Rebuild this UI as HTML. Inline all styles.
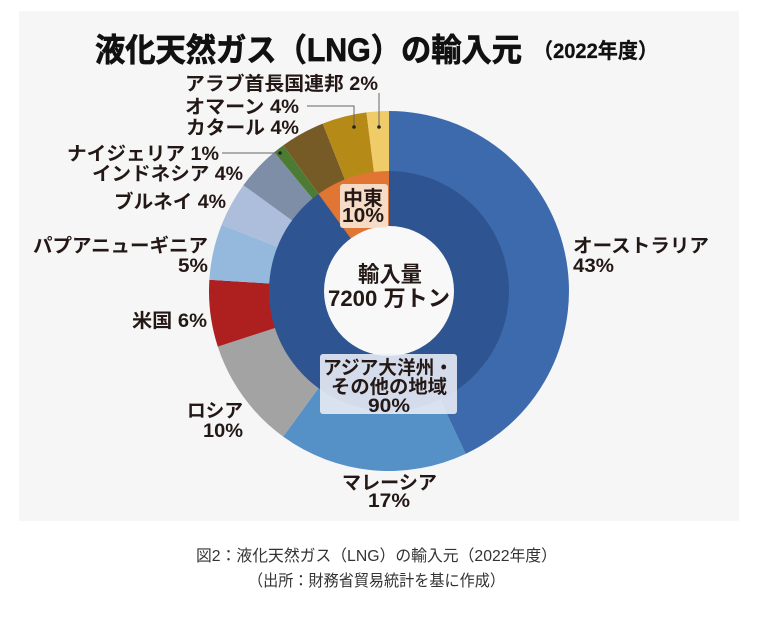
<!DOCTYPE html>
<html><head><meta charset="utf-8"><style>
html,body{margin:0;padding:0;background:#fff;}
svg{display:block;}
text{font-family:"Liberation Sans","Noto Sans CJK JP",sans-serif;}
</style></head><body>
<svg width="757" height="633" viewBox="0 0 757 633" xmlns="http://www.w3.org/2000/svg">
<rect x="0" y="0" width="757" height="633" fill="#ffffff"/>
<rect x="19" y="11" width="720" height="510" fill="#f6f6f6"/>

<!-- title -->
<text x="95" y="61" font-size="32" font-weight="bold" fill="#111" stroke="#111" stroke-width="0.7" textLength="427" lengthAdjust="spacingAndGlyphs">液化天然ガス（LNG）の輸入元</text>
<text x="533" y="58" font-size="21" font-weight="bold" fill="#111" stroke="#111" stroke-width="0.3" textLength="125" lengthAdjust="spacingAndGlyphs">（2022年度）</text>

<!-- outer ring slices -->
<path d="M389 291 L389 111 A180 180 0 0 1 465.64 453.86 Z" fill="#3d6aad"/>
<path d="M389 291 L465.64 453.86 A180 180 0 0 1 283.20 436.62 Z" fill="#5590c6"/>
<path d="M389 291 L283.20 436.62 A180 180 0 0 1 217.80 346.62 Z" fill="#a3a3a3"/>
<path d="M389 291 L217.80 346.62 A180 180 0 0 1 209.36 279.70 Z" fill="#ae2020"/>
<path d="M389 291 L209.36 279.70 A180 180 0 0 1 221.64 224.74 Z" fill="#94b9dd"/>
<path d="M389 291 L221.64 224.74 A180 180 0 0 1 243.38 185.20 Z" fill="#adbedc"/>
<path d="M389 291 L243.38 185.20 A180 180 0 0 1 274.27 152.31 Z" fill="#7d8ea6"/>
<path d="M389 291 L274.27 152.31 A180 180 0 0 1 283.20 145.38 Z" fill="#4c7c33"/>
<path d="M389 291 L283.20 145.38 A180 180 0 0 1 322.74 123.64 Z" fill="#775b27"/>
<path d="M389 291 L322.74 123.64 A180 180 0 0 1 366.45 112.42 Z" fill="#b68a17"/>
<path d="M389 291 L366.45 112.42 A180 180 0 0 1 389 111 Z" fill="#efcc67"/>

<!-- inner ring -->
<path d="M389 291 L389 171 A120 120 0 1 1 318.46 193.92 Z" fill="#2e5592"/>
<path d="M389 291 L318.46 193.92 A120 120 0 0 1 389 171 Z" fill="#e07534"/>

<!-- hole -->
<circle cx="389" cy="291" r="65" fill="#f8f8f8"/>

<!-- boxes -->
<rect x="340" y="184" width="48" height="44" rx="3" fill="#f7e5d3" fill-opacity="0.92"/>
<rect x="320" y="354" width="137" height="60" rx="3" fill="#eceef6" fill-opacity="0.88"/>

<!-- center text -->
<g fill="#231815" font-weight="bold">
<text x="358" y="282" font-size="22" textLength="64" lengthAdjust="spacingAndGlyphs">輸入量</text>
<text x="328" y="306" font-size="22" textLength="122" lengthAdjust="spacingAndGlyphs">7200 万トン</text>
<text x="343" y="205" font-size="20" textLength="40" lengthAdjust="spacingAndGlyphs">中東</text>
<text x="342" y="222" font-size="20" textLength="42" lengthAdjust="spacingAndGlyphs">10%</text>
<text x="323" y="374" font-size="19" textLength="130" lengthAdjust="spacingAndGlyphs">アジア大洋州・</text>
<text x="331" y="393" font-size="19" textLength="116" lengthAdjust="spacingAndGlyphs">その他の地域</text>
<text x="368" y="412" font-size="19" textLength="42" lengthAdjust="spacingAndGlyphs">90%</text>
</g>

<!-- leader lines -->
<g stroke="#666" stroke-width="1" fill="none">
<polyline points="307,106 354,106 354,127"/>
<line x1="379" y1="93" x2="379" y2="127"/>
<line x1="222" y1="153" x2="280" y2="153"/>
</g>
<g fill="#222">
<circle cx="354" cy="127" r="1.8"/>
<circle cx="379" cy="127" r="1.8"/>
<circle cx="280" cy="153" r="1.8"/>
</g>

<!-- labels -->
<g fill="#231815" font-weight="bold" font-size="19">
<text x="185" y="90" textLength="193" lengthAdjust="spacingAndGlyphs">アラブ首長国連邦 2%</text>
<text x="185" y="113" textLength="114" lengthAdjust="spacingAndGlyphs">オマーン 4%</text>
<text x="186" y="134" textLength="113" lengthAdjust="spacingAndGlyphs">カタール 4%</text>
<text x="67" y="160" textLength="152" lengthAdjust="spacingAndGlyphs">ナイジェリア 1%</text>
<text x="92" y="180" textLength="151" lengthAdjust="spacingAndGlyphs">インドネシア 4%</text>
<text x="114" y="208" textLength="112" lengthAdjust="spacingAndGlyphs">ブルネイ 4%</text>
<text x="33" y="252" textLength="175" lengthAdjust="spacingAndGlyphs">パプアニューギニア</text>
<text x="178" y="272" textLength="30" lengthAdjust="spacingAndGlyphs">5%</text>
<text x="132" y="327" textLength="75" lengthAdjust="spacingAndGlyphs">米国 6%</text>
<text x="187" y="417" textLength="56" lengthAdjust="spacingAndGlyphs">ロシア</text>
<text x="203" y="437" textLength="40" lengthAdjust="spacingAndGlyphs">10%</text>
<text x="342" y="489" textLength="95" lengthAdjust="spacingAndGlyphs">マレーシア</text>
<text x="368" y="507" textLength="42" lengthAdjust="spacingAndGlyphs">17%</text>
<text x="573" y="252" textLength="136" lengthAdjust="spacingAndGlyphs">オーストラリア</text>
<text x="573" y="272" textLength="41" lengthAdjust="spacingAndGlyphs">43%</text>
</g>

<!-- caption -->
<g fill="#333" font-size="16">
<text x="196" y="561" textLength="361" lengthAdjust="spacingAndGlyphs">図2：液化天然ガス（LNG）の輸入元（2022年度）</text>
<text x="248" y="586" textLength="257" lengthAdjust="spacingAndGlyphs">（出所：財務省貿易統計を基に作成）</text>
</g>
</svg>
</body></html>
